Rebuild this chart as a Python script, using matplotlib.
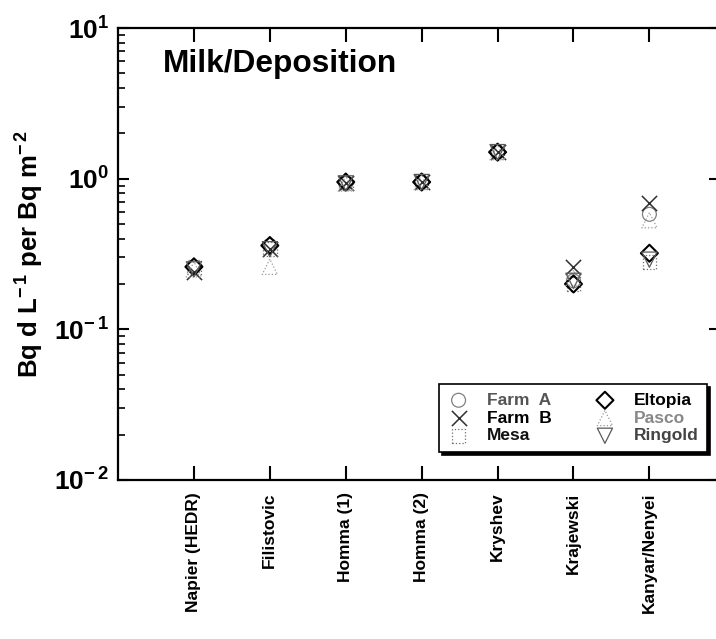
import numpy as np
import matplotlib
matplotlib.use("Agg")
import matplotlib.pyplot as plt
from matplotlib.ticker import LogLocator, FixedLocator, NullFormatter

plt.rcParams["font.family"] = ["Liberation Sans", "DejaVu Sans"]
plt.rcParams["font.weight"] = "bold"
plt.rcParams["mathtext.fontset"] = "custom"
plt.rcParams["mathtext.rm"] = "Liberation Sans:bold"
plt.rcParams["mathtext.bf"] = "Liberation Sans:bold"
plt.rcParams["mathtext.it"] = "Liberation Sans:bold"
plt.rcParams["mathtext.default"] = "bf"

# Transfer factor estimates per study and site
studies = ["Napier (HEDR)", "Filistovic", "Homma (1)", "Homma (2)",
           "Kryshev", "Krajewski", "Kanyar/Nenyei"]
farm_a = [0.26, 0.36, 0.93, 0.95, 1.50, 0.21, 0.58]
farm_b = [0.24, 0.34, 0.93, 0.95, 1.50, 0.26, 0.69]
mesa = [0.26, 0.34, 0.93, 0.95, 1.50, 0.20, 0.28]
eltopia = [0.26, 0.36, 0.95, 0.95, 1.50, 0.20, 0.32]
pasco = [0.25, 0.26, 0.93, 0.95, 1.50, 0.22, 0.53]
ringold = [0.25, 0.34, 0.93, 0.95, 1.50, 0.21, 0.29]

ytick_vals = [1e-2, 1e-1, 1e0, 1e1]
ytick_labels = [r"$10^{-\,2}$", r"$10^{-\,1}$", r"$10^{0}$", r"$10^{1}$"]

fig = plt.figure(figsize=(7.16, 6.39), dpi=100)
ax = fig.add_axes([118 / 716, 1 - 480 / 639, 602 / 716, 452 / 639])

x = np.arange(1, len(studies) + 1)

series = [
    ("Farm  A", farm_a, dict(marker="o", s=100, facecolors="none",
                             edgecolors="#808080", linewidths=0.9)),
    ("Farm  B", farm_b, dict(marker="x", s=120, c="#303030", linewidths=1.1)),
    ("Mesa", mesa, dict(marker="s", s=95, facecolors="none",
                        edgecolors="#707070", linewidths=0.9, linestyles=":")),
    ("Eltopia", eltopia, dict(marker="D", s=75, facecolors="none",
                              edgecolors="#000000", linewidths=1.5)),
    ("Pasco", pasco, dict(marker="^", s=120, facecolors="none",
                          edgecolors="#9a9a9a", linewidths=0.9, linestyles=":")),
    ("Ringold", ringold, dict(marker="v", s=120, facecolors="none",
                              edgecolors="#5a5a5a", linewidths=0.9)),
]

handles = []
for label, vals, kw in series:
    h = ax.scatter(x, vals, label=label, zorder=3, **kw)
    handles.append(h)

ax.set_yscale("log")
ax.set_ylim(1e-2, 1e1)
ax.set_xlim(0, 7.93)

ax.yaxis.set_major_locator(FixedLocator(ytick_vals))
ax.set_yticklabels(ytick_labels, fontsize=19)
ax.yaxis.set_minor_locator(LogLocator(base=10, subs=np.arange(2, 10)))
ax.yaxis.set_minor_formatter(NullFormatter())

ax.set_xticks(x)
ax.set_xticklabels(studies, rotation=90, fontsize=12.5, fontweight="bold")

ax.tick_params(axis="y", which="major", direction="in", length=8, width=1.5,
               left=True, right=True, pad=6.5)
ax.tick_params(axis="y", which="minor", direction="in", length=5, width=1.2,
               left=True, right=False)
ax.tick_params(axis="x", which="major", direction="in", length=10, width=1.5,
               top=True, bottom=True, pad=9)

for sp in ax.spines.values():
    sp.set_linewidth(1.6)

ax.set_ylabel(r"Bq d L$^{-\,1}$ per Bq m$^{-\,2}$", fontsize=18.5,
              fontweight="bold")
ax.yaxis.set_label_coords(-(118 - 46) / 602, 0.5)

ax.text(0.075, 0.903, "Milk/Deposition", transform=ax.transAxes,
        fontsize=22.8, fontweight="bold", va="baseline", ha="left")

leg = ax.legend(handles=handles, ncol=2,
                loc="lower right",
                bbox_to_anchor=((707 - 118) / 602, (480 - 452) / 452),
                frameon=True, fancybox=False, edgecolor="black",
                shadow={"color": "black", "alpha": 1.0, "ox": 2.5, "oy": -2.5},
                prop={"size": 12.5, "weight": "bold"},
                handletextpad=1.0, columnspacing=2.4, labelspacing=0.15,
                borderpad=0.5, handlelength=1.3, borderaxespad=0)
leg.get_frame().set_linewidth(1.2)
text_colors = ["#555555", "#000000", "#111111", "#000000", "#888888", "#444444"]
for t, c in zip(leg.get_texts(), text_colors):
    t.set_color(c)

fig.savefig("out.png", dpi=100)
